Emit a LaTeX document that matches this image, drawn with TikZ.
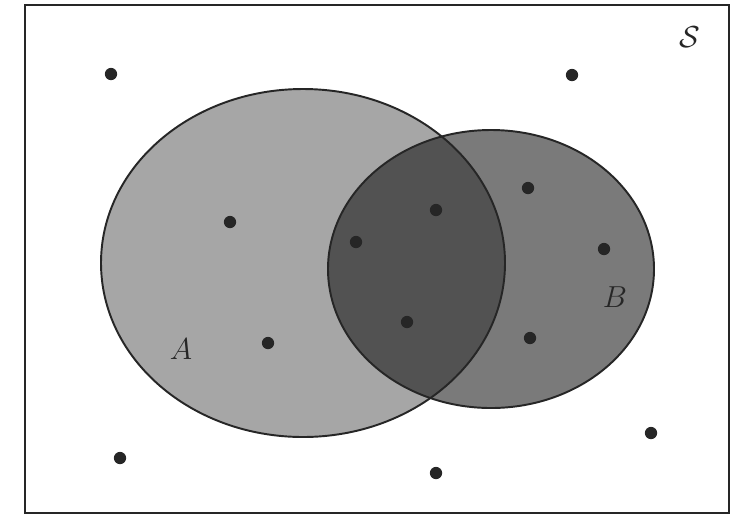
\documentclass[tikz,border=0pt]{standalone}
\usepackage{amsmath,amssymb}
\usetikzlibrary{positioning}
\tikzset{
  frame/.style={draw=black!85, line width=1.3pt},
  setA/.style={fill=black!35},
  setB/.style={fill=black!52},
  both/.style={fill=black!68},
  rim/.style={draw=black!85, line width=1.1pt},
  pt/.style={circle, fill=black!85, inner sep=0pt, minimum size=7pt},
  lbl/.style={font=\fontsize{17}{20}\selectfont, text=black!85},
}
\begin{document}
\begin{tikzpicture}[x=0.02cm, y=-0.02cm]
  \useasboundingbox (0,0) rectangle (737,515);
  \fill[white] (0,0) rectangle (737,515);
  % the two sets
  \fill[setA] (303,263) ellipse [x radius=202, y radius=174];
  \fill[setB] (491,269) ellipse [x radius=163, y radius=139];
  \begin{scope}
    \clip (303,263) ellipse [x radius=202, y radius=174];
    \fill[both] (491,269) ellipse [x radius=163, y radius=139];
  \end{scope}
  \draw[rim] (303,263) ellipse [x radius=202, y radius=174];
  \draw[rim] (491,269) ellipse [x radius=163, y radius=139];
  \draw[frame] (25,5) rectangle (729,513);
  % labels
  \node[lbl] (labS) at (690,37) {$\mathcal{S}$};
  \node[lbl] (labA) at (181,349) {$A$};
  \node[lbl] (labB) at (615,297) {$B$};
  % sample points
  \node[pt] (p1) at (111,74) {};
  \node[pt] (p2) at (572,75) {};
  \node[pt] (p3) at (230,222) {};
  \node[pt] (p4) at (436,210) {};
  \node[pt] (p5) at (528,188) {};
  \node[pt] (p6) at (356,242) {};
  \node[pt] (p7) at (604,249) {};
  \node[pt] (p8) at (407,322) {};
  \node[pt] (p9) at (530,338) {};
  \node[pt] (p10) at (268,343) {};
  \node[pt] (p11) at (651,433) {};
  \node[pt] (p12) at (120,458) {};
  \node[pt] (p13) at (436,473) {};
\end{tikzpicture}
\end{document}
